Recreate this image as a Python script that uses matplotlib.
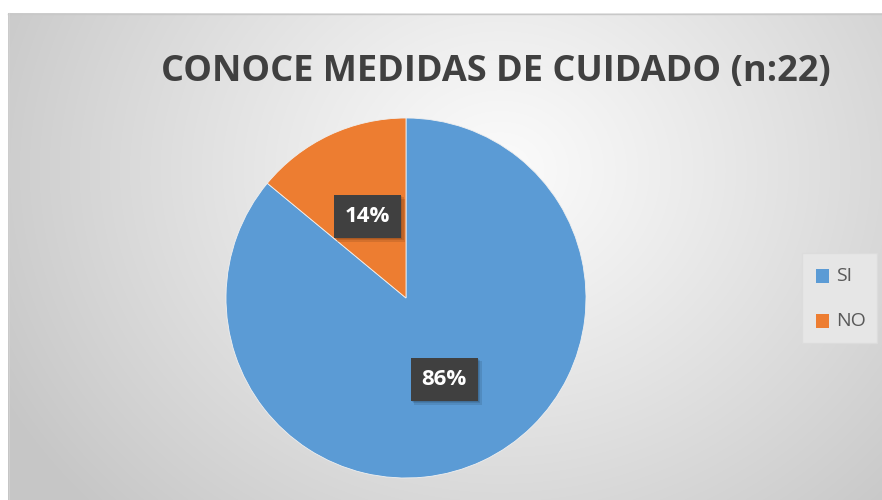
import numpy as np
import matplotlib
matplotlib.use("Agg")
import matplotlib.pyplot as plt
from matplotlib.patches import Rectangle
from matplotlib.transforms import IdentityTransform

title = "CONOCE MEDIDAS DE CUIDADO (n:22)"
categories = ["SI", "NO"]
values = [86, 14]
colors = ["#5B9BD5", "#ED7D31"]

W, H = 882, 500
fig = plt.figure(figsize=(W / 100, H / 100), dpi=100)
fig.patch.set_facecolor("white")

# background radial gradient (chart area)
bg = fig.add_axes([0, 0, 1, 1])
bg.set_xlim(0, W)
bg.set_ylim(H, 0)
bg.axis("off")
yy, xx = np.mgrid[0:H, 0:W]
cx, cy = 500, 170
d = np.sqrt((xx - cx) ** 2 + ((yy - cy) * 1.15) ** 2)
t = np.clip(d / 560, 0, 1) ** 1.1
c0, c1 = 0.985, 0.78
g = c0 + (c1 - c0) * t
img = np.dstack([g, g, g])
x0, y0 = 8, 13
img[:y0, :, :] = 1.0
img[:, :x0, :] = 1.0
bg.imshow(img, extent=[0, W, H, 0], interpolation="bilinear", zorder=0)
bg.plot([x0, W], [y0 + 0.5, y0 + 0.5], color="#c8c8c8", lw=1.0, zorder=1)
bg.plot([x0 + 0.5, x0 + 0.5], [y0, H], color="#d0d0d0", lw=0.8, zorder=1)

# legend box
bg.add_patch(Rectangle((802, 253), 75, 90, facecolor="#e6e6e6", edgecolor="#dcdcdc", lw=1, zorder=2))

# title
fig.text(496 / W, 1 - 72 / H, title, ha="center", va="center",
         fontsize=26, fontweight="bold", color="#404040", family="Open Sans")

# pie
r = 180
pcx, pcy = 406, 298
ax = fig.add_axes([(pcx - r) / W, (H - pcy - r) / H, 2 * r / W, 2 * r / H])
wedges, _ = ax.pie(values, colors=colors, startangle=90, counterclock=False,
                   radius=1, wedgeprops=dict(edgecolor="#f0f0f0", linewidth=0.6))
ax.set_xlim(-1, 1)
ax.set_ylim(-1, 1)
ax.set_aspect("equal")
ax.axis("off")

# labels
total = sum(values)
start = 90.0
labels = []
for v in values:
    ang = start - 360 * v / total / 2
    start -= 360 * v / total
    a = np.deg2rad(ang)
    lx, ly = 0.5 * np.cos(a), 0.5 * np.sin(a)
    txt = ax.text(lx, ly, f"{v}%", ha="center", va="center", fontsize=16,
                  fontweight="bold", color="white", family="Open Sans", zorder=5,
                  bbox=dict(boxstyle="square,pad=0.5", facecolor="#404040", edgecolor="none"))
    labels.append(txt)

fig.canvas.draw()
renderer = fig.canvas.get_renderer()
for txt in labels:
    bb = txt.get_bbox_patch().get_window_extent(renderer)
    for k in range(3):
        off = 1.0 + k * 1.3
        sh = Rectangle((bb.x0 + off, bb.y0 - off), bb.width, bb.height,
                       facecolor="black", edgecolor="none", alpha=0.1, zorder=3)
        sh.set_transform(IdentityTransform())
        ax.add_artist(sh)

# legend entries
for i, (cat, col) in enumerate(zip(categories, colors)):
    yc = 276 + i * 45
    bg.add_patch(Rectangle((816, yc - 7), 13, 14, facecolor=col, edgecolor="none", zorder=3))
    bg.text(836, yc, cat, ha="left", va="center", fontsize=14, color="#595959",
            family="Open Sans", zorder=3)

fig.savefig("out.png", dpi=100)
